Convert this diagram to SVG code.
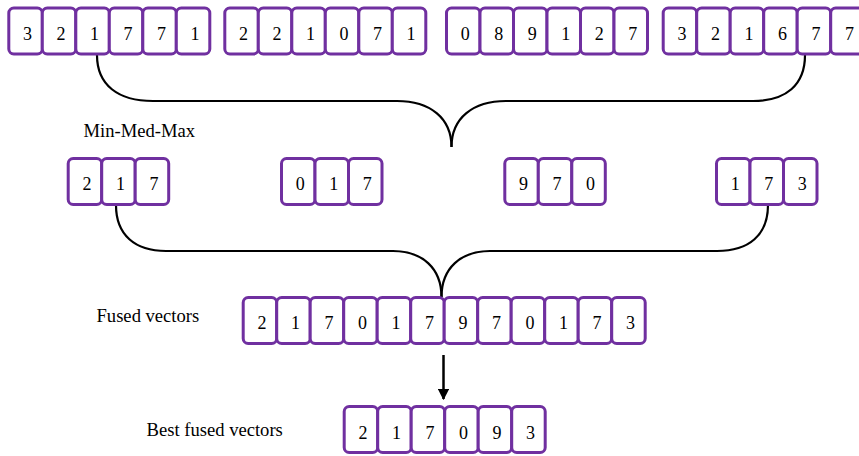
<svg xmlns="http://www.w3.org/2000/svg" width="859" height="456" viewBox="0 0 859 456">
  <style>
    .cell { fill: #ffffff; stroke: #7030a0; stroke-width: 3; }
    .num { font-family: "Liberation Serif", "Times New Roman", serif; font-size: 18px; fill: #000; text-anchor: middle; }
    .lbl { font-family: "Liberation Serif", "Times New Roman", serif; font-size: 18.6px; fill: #000; }
    .brace { fill: none; stroke: #000; stroke-width: 2.2; }
  </style>
  <defs>
    <rect id="c" class="cell" x="0" y="0" width="33.5" height="46" rx="5" ry="5"/>
    <marker id="arrow" viewBox="0 0 10 10" refX="9" refY="5" markerWidth="4.6" markerHeight="4.6" markerUnits="strokeWidth" orient="auto">
      <path d="M0,0 L10,5 L0,10 z" fill="#000"/>
    </marker>
  </defs>

  <rect width="859" height="456" fill="#ffffff"/>

  <!-- connectors -->
  <g id="connectors">
    <path class="brace" d="M97,55 C97,85 118,101 153,101 L397,101 C430,101 451.5,118 451.5,147"/>
    <path class="brace" d="M805,55 C805,85 786,101 753,101 L506,101 C473,101 451.5,118 451.5,147"/>
    <path class="brace" d="M116,205 C116,235 135,251 166,251 L393,251 C422,251 441.5,268 441.5,297"/>
    <path class="brace" d="M768,205 C768,235 749,251 717,251 L490,251 C461,251 441.5,268 441.5,297"/>
    <line x1="443.5" y1="355" x2="443.5" y2="399" stroke="#000" stroke-width="2.5" marker-end="url(#arrow)"/>
  </g>

  <!-- input vectors -->
  <g id="vec1" transform="translate(8.8,8)">
    <use href="#c" x="0"/><use href="#c" x="33.5"/><use href="#c" x="67"/><use href="#c" x="100.5"/><use href="#c" x="134"/><use href="#c" x="167.5"/>
    <text class="num" y="31.5"><tspan x="18.8">3</tspan><tspan x="52.3">2</tspan><tspan x="85.8">1</tspan><tspan x="119.3">7</tspan><tspan x="152.8">7</tspan><tspan x="186.3">1</tspan></text>
  </g>
  <g id="vec2" transform="translate(224.8,8)">
    <use href="#c" x="0"/><use href="#c" x="33.5"/><use href="#c" x="67"/><use href="#c" x="100.5"/><use href="#c" x="134"/><use href="#c" x="167.5"/>
    <text class="num" y="31.5"><tspan x="18.8">2</tspan><tspan x="52.3">2</tspan><tspan x="85.8">1</tspan><tspan x="119.3">0</tspan><tspan x="152.8">7</tspan><tspan x="186.3">1</tspan></text>
  </g>
  <g id="vec3" transform="translate(446.5,8)">
    <use href="#c" x="0"/><use href="#c" x="33.5"/><use href="#c" x="67"/><use href="#c" x="100.5"/><use href="#c" x="134"/><use href="#c" x="167.5"/>
    <text class="num" y="31.5"><tspan x="18.8">0</tspan><tspan x="52.3">8</tspan><tspan x="85.8">9</tspan><tspan x="119.3">1</tspan><tspan x="152.8">2</tspan><tspan x="186.3">7</tspan></text>
  </g>
  <g id="vec4" transform="translate(663.2,8)">
    <use href="#c" x="0"/><use href="#c" x="33.5"/><use href="#c" x="67"/><use href="#c" x="100.5"/><use href="#c" x="134"/><use href="#c" x="167.5"/>
    <text class="num" y="31.5"><tspan x="18.8">3</tspan><tspan x="52.3">2</tspan><tspan x="85.8">1</tspan><tspan x="119.3">6</tspan><tspan x="152.8">7</tspan><tspan x="186.3">7</tspan></text>
  </g>

  <!-- min / median / max per vector -->
  <text id="label-mmm" class="lbl" x="83.5" y="137">Min-Med-Max</text>
  <g id="mmm1" transform="translate(68.2,158.5)">
    <use href="#c" x="0"/><use href="#c" x="33.5"/><use href="#c" x="67"/>
    <text class="num" y="31.5"><tspan x="18.8">2</tspan><tspan x="52.3">1</tspan><tspan x="85.8">7</tspan></text>
  </g>
  <g id="mmm2" transform="translate(281.5,158.5)">
    <use href="#c" x="0"/><use href="#c" x="33.5"/><use href="#c" x="67"/>
    <text class="num" y="31.5"><tspan x="18.8">0</tspan><tspan x="52.3">1</tspan><tspan x="85.8">7</tspan></text>
  </g>
  <g id="mmm3" transform="translate(504.8,158.5)">
    <use href="#c" x="0"/><use href="#c" x="33.5"/><use href="#c" x="67"/>
    <text class="num" y="31.5"><tspan x="18.8">9</tspan><tspan x="52.3">7</tspan><tspan x="85.8">0</tspan></text>
  </g>
  <g id="mmm4" transform="translate(716.5,158.5)">
    <use href="#c" x="0"/><use href="#c" x="33.5"/><use href="#c" x="67"/>
    <text class="num" y="31.5"><tspan x="18.8">1</tspan><tspan x="52.3">7</tspan><tspan x="85.8">3</tspan></text>
  </g>

  <!-- fused vector -->
  <text id="label-fused" class="lbl" x="96.5" y="322">Fused vectors</text>
  <g id="fused" transform="translate(243.2,297.5)">
    <use href="#c" x="0"/><use href="#c" x="33.5"/><use href="#c" x="67"/><use href="#c" x="100.5"/><use href="#c" x="134"/><use href="#c" x="167.5"/>
    <use href="#c" x="201"/><use href="#c" x="234.5"/><use href="#c" x="268"/><use href="#c" x="301.5"/><use href="#c" x="335"/><use href="#c" x="368.5"/>
    <text class="num" y="31.8"><tspan x="18.8">2</tspan><tspan x="52.3">1</tspan><tspan x="85.8">7</tspan><tspan x="119.3">0</tspan><tspan x="152.8">1</tspan><tspan x="186.3">7</tspan><tspan x="219.8">9</tspan><tspan x="253.3">7</tspan><tspan x="286.8">0</tspan><tspan x="320.3">1</tspan><tspan x="353.8">7</tspan><tspan x="387.3">3</tspan></text>
  </g>

  <!-- selected result -->
  <text id="label-best" class="lbl" x="146.5" y="436">Best fused vectors</text>
  <g id="best" transform="translate(344.2,406.5)">
    <use href="#c" x="0"/><use href="#c" x="33.5"/><use href="#c" x="67"/><use href="#c" x="100.5"/><use href="#c" x="134"/><use href="#c" x="167.5"/>
    <text class="num" y="32.5"><tspan x="18.8">2</tspan><tspan x="52.3">1</tspan><tspan x="85.8">7</tspan><tspan x="119.3">0</tspan><tspan x="152.8">9</tspan><tspan x="186.3">3</tspan></text>
  </g>
</svg>
